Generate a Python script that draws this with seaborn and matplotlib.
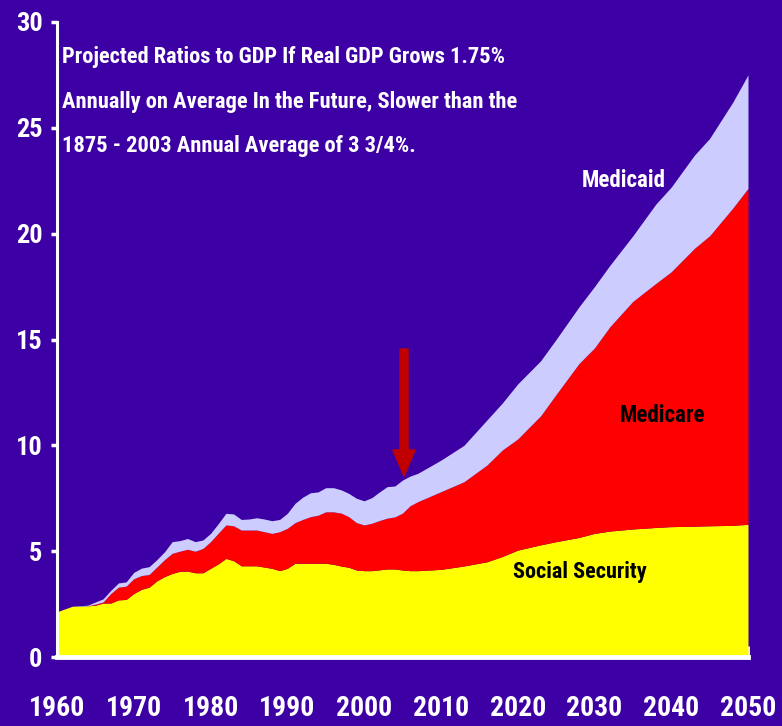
import numpy as np
import seaborn as sns
import matplotlib.pyplot as plt

# Ratios to GDP (%)
years = [1960, 1962, 1964, 1965, 1966, 1967, 1968, 1969, 1970, 1971, 1972, 1973,
         1974, 1975, 1976, 1977, 1978, 1979, 1980, 1981, 1982, 1983, 1984, 1985,
         1986, 1987, 1988, 1989, 1990, 1991, 1992, 1993, 1994, 1995, 1996, 1997,
         1998, 1999, 2000, 2001, 2002, 2003, 2004, 2005, 2006, 2007, 2010, 2013,
         2016, 2018, 2020, 2023, 2025, 2028, 2030, 2032, 2035, 2038, 2040, 2043,
         2045, 2048, 2050]

social_security = [2.14, 2.40, 2.42, 2.45, 2.55, 2.55, 2.70, 2.72, 3.00, 3.20, 3.30, 3.60,
                   3.80, 3.95, 4.05, 4.06, 3.98, 3.98, 4.19, 4.40, 4.66, 4.55, 4.31, 4.31,
                   4.31, 4.25, 4.19, 4.08, 4.19, 4.43, 4.43, 4.43, 4.43, 4.43, 4.38, 4.30,
                   4.24, 4.11, 4.08, 4.08, 4.12, 4.16, 4.16, 4.11, 4.08, 4.08, 4.14, 4.30,
                   4.50, 4.75, 5.05, 5.30, 5.45, 5.65, 5.84, 5.95, 6.05, 6.12, 6.16, 6.18,
                   6.20, 6.22, 6.27]

medicare = [0.00, 0.00, 0.00, 0.05, 0.05, 0.45, 0.60, 0.63, 0.70, 0.65, 0.60, 0.65,
            0.80, 0.95, 0.95, 1.03, 1.02, 1.15, 1.26, 1.45, 1.58, 1.65, 1.69, 1.69,
            1.69, 1.67, 1.65, 1.84, 1.89, 1.92, 2.07, 2.20, 2.27, 2.43, 2.48, 2.50,
            2.39, 2.24, 2.16, 2.24, 2.33, 2.40, 2.46, 2.69, 3.07, 3.26, 3.67, 3.98,
            4.57, 5.03, 5.25, 6.10, 6.95, 8.22, 8.76, 9.65, 10.75, 11.53, 12.04, 13.12,
            13.70, 14.98, 15.87]

medicaid = [0.00, 0.00, 0.03, 0.10, 0.15, 0.15, 0.20, 0.20, 0.30, 0.35, 0.37, 0.35,
            0.37, 0.55, 0.50, 0.51, 0.45, 0.40, 0.39, 0.45, 0.55, 0.56, 0.50, 0.52,
            0.58, 0.60, 0.60, 0.58, 0.71, 0.91, 1.05, 1.13, 1.10, 1.14, 1.14, 1.10,
            1.10, 1.15, 1.14, 1.21, 1.35, 1.49, 1.46, 1.56, 1.40, 1.34, 1.49, 1.72,
            2.13, 2.22, 2.60, 2.60, 2.60, 2.68, 2.90, 2.90, 3.10, 3.75, 4.00, 4.40,
            4.60, 5.00, 5.36]

title_lines = ["Projected Ratios to GDP If Real GDP Grows 1.75%",
               "Annually on Average In the Future, Slower than the",
               "1875 - 2003 Annual Average of 3 3/4%."]

bg = '#3d00a4'
sns.set_style('ticks')
plt.rcParams['font.family'] = ['Roboto Condensed', 'Liberation Sans', 'DejaVu Sans']
plt.rcParams['font.weight'] = 'bold'

fig = plt.figure(figsize=(7.82, 7.26), dpi=100, facecolor=bg)
ax = fig.add_axes([0.0729, 0.095, 0.8836, 0.8747])
ax.set_facecolor(bg)

ax.stackplot(years, social_security, medicare, medicaid,
             colors=['#ffff00', '#ff0000', '#ccccff'], linewidth=0)

ax.set_xlim(1960, 2050)
ax.set_ylim(0, 30)
ax.set_xticks(range(1960, 2051, 10))
ax.set_yticks(range(0, 31, 5))

for s in ['top', 'right']:
    ax.spines[s].set_visible(False)
ax.spines['left'].set_color('white')
ax.spines['left'].set_linewidth(2.2)
ax.spines['bottom'].set_color('white')
ax.spines['bottom'].set_linewidth(3.5)

ax.tick_params(axis='y', direction='out', length=4.5, width=2.5, color='white',
               labelcolor='white', labelsize=19, pad=6)
ax.tick_params(axis='x', direction='in', length=8, width=2, color='white',
               labelcolor='white', labelsize=20, pad=27)
for lab in ax.get_xticklabels() + ax.get_yticklabels():
    lab.set_fontweight('bold')

# title block inside the plot
for txt, yb in zip(title_lines, [28.06, 25.93, 23.87]):
    ax.text(1960.65, yb, txt, color='white', fontsize=16.2, fontweight='bold',
            va='baseline', ha='left')

ax.text(2033.8, 22.5, 'Medicaid', color='white', fontsize=16.5, fontweight='bold',
        ha='center', va='center')
ax.text(2038.9, 11.43, 'Medicare', color='black', fontsize=16.5, fontweight='bold',
        ha='center', va='center')
ax.text(2028.1, 4.0, 'Social Security', color='black', fontsize=16, fontweight='bold',
        ha='center', va='center')

# arrow pointing at 2004
ax.annotate('', xy=(2005.2, 8.55), xytext=(2005.2, 14.55),
            arrowprops=dict(arrowstyle='simple,head_length=0.94,head_width=0.8,tail_width=0.29',
                            color='#c00000', shrinkA=0, shrinkB=0, mutation_scale=20))

fig.savefig('out.png', dpi=100, facecolor=bg)
